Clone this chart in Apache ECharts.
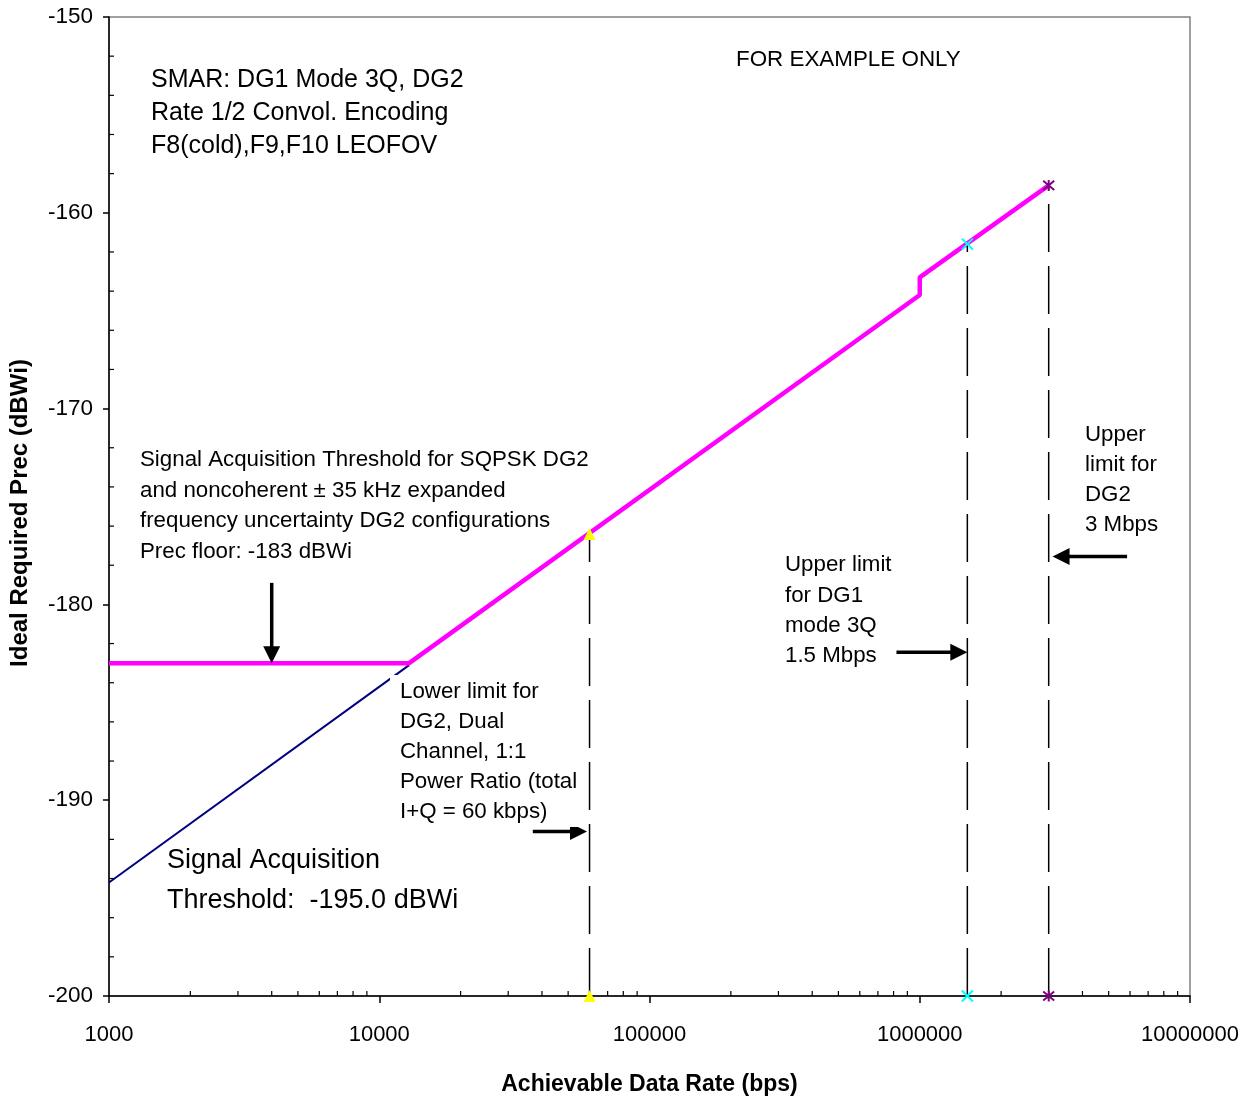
<!DOCTYPE html>
<html>
<head>
<meta charset="utf-8">
<title>Ideal Required Prec vs Achievable Data Rate</title>
<script src="https://cdn.jsdelivr.net/npm/echarts@6/dist/echarts.min.js"></script>
<style>
  html, body { margin: 0; padding: 0; background: #fff; }
  #chart { width: 1253px; height: 1101px; }
</style>
</head>
<body>
<div id="chart"></div>
<script>
// Achievable data rate (bps) vs ideal required received power (dBWi)

// Required Prec curve (floor at -183 dBWi, step at 1 Mbps)
const precCurve = [
  [1000, -183.0],
  [12900, -183.0],
  [1000000, -164.2],
  [1000000, -163.3],
  [3000000, -158.6]
];

// Signal acquisition threshold line below the floor
const thresholdLine = [
  [1000, -194.2],
  [12900, -183.1]
];

// Rate limits: [rate, Prec on curve]
const limitDG2Low = [60000, -176.4];     // 60 kbps, yellow triangle
const limitDG1Up = [1500000, -161.6];    // 1.5 Mbps, cyan cross
const limitDG2Up = [3000000, -158.6];    // 3 Mbps, purple asterisk

// Annotation arrows: [fromRate, fromPrec, tipRate, tipPrec]
const arrows = [
  [4000, -178.9, 4000, -183.0],
  [37000, -191.6, 58700, -191.6],
  [820000, -182.45, 1500000, -182.45],
  [5850000, -177.55, 3100000, -177.55]
];

// Axis ranges and minor tick positions
const xMin = 1000, xMax = 10000000;
const yMin = -200, yMax = -150, yStep = 10;
const xMinorTicks = [];
for (const d of [1000, 10000, 100000, 1000000]) {
  for (const m of [2, 3, 4, 5, 6, 7, 8, 9]) xMinorTicks.push(d * m);
}
const yMinorTicks = [];
for (let v = yMin + 2; v < yMax; v += 2) {
  if (v % 10 !== 0) yMinorTicks.push(v);
}

const FONT = "'Liberation Sans', Arial, sans-serif";

const chart = echarts.init(document.getElementById('chart'), null, { renderer: 'canvas' });

function limitSeries(name, pt, symbol, size, itemStyle) {
  return {
    name: name,
    type: 'line',
    data: [[pt[0], yMin], [pt[0], pt[1]]],
    symbol: symbol,
    symbolSize: size,
    showSymbol: true,
    showAllSymbol: true,
    itemStyle: itemStyle,
    lineStyle: { color: '#000', width: 1.5, type: [48, 14] },
    z: 4,
    clip: false,
    silent: true
  };
}

const option = {
  animation: false,
  backgroundColor: '#fff',
  grid: {
    left: 109, right: 63, top: 17, bottom: 104,
    show: true, borderColor: '#808080', borderWidth: 1.5, backgroundColor: 'transparent'
  },
  xAxis: {
    type: 'log',
    logBase: 10,
    min: xMin,
    max: xMax,
    name: 'Achievable Data Rate (bps)',
    nameLocation: 'middle',
    nameGap: 77,
    nameTextStyle: { fontFamily: FONT, fontSize: 23, fontWeight: 'bold', color: '#000' },
    axisLine: { show: true, lineStyle: { color: '#000', width: 1.5 } },
    axisTick: { show: true, inside: false, length: 7, lineStyle: { color: '#000', width: 1.5 } },
    axisLabel: {
      fontFamily: FONT, fontSize: 22, color: '#000', margin: 28,
      formatter: v => String(Math.round(v))
    },
    splitLine: { show: false }
  },
  yAxis: {
    type: 'value',
    min: yMin,
    max: yMax,
    interval: yStep,
    axisLine: { show: true, lineStyle: { color: '#000', width: 1.5 } },
    axisTick: { show: true, inside: false, length: 6, lineStyle: { color: '#000', width: 1.5 } },
    axisLabel: { fontFamily: FONT, fontSize: 22.5, color: '#000', margin: 16 },
    splitLine: { show: false }
  },
  series: [
    {
      name: 'Minor x ticks',
      type: 'custom',
      silent: true,
      clip: false,
      z: 3,
      data: xMinorTicks.map(v => [v, yMin]),
      renderItem: (params, api) => {
        const p = api.coord([api.value(0), api.value(1)]);
        return {
          type: 'line',
          shape: { x1: p[0], y1: p[1], x2: p[0], y2: p[1] - 5 },
          style: { stroke: '#000', lineWidth: 1.2 }
        };
      }
    },
    {
      name: 'Minor y ticks',
      type: 'custom',
      silent: true,
      clip: false,
      z: 3,
      data: yMinorTicks.map(v => [xMin, v]),
      renderItem: (params, api) => {
        const p = api.coord([api.value(0), api.value(1)]);
        return {
          type: 'line',
          shape: { x1: p[0], y1: p[1], x2: p[0] + 5, y2: p[1] },
          style: { stroke: '#000', lineWidth: 1.2 }
        };
      }
    },
    {
      name: 'Acquisition threshold',
      type: 'line',
      data: thresholdLine,
      symbol: 'none',
      lineStyle: { color: '#000080', width: 2 },
      z: 2,
      silent: true
    },
    {
      name: 'Required Prec',
      type: 'line',
      data: precCurve,
      symbol: 'none',
      lineStyle: { color: '#FF00FF', width: 4.5 },
      z: 3,
      silent: true
    },
    limitSeries('DG2 lower limit', limitDG2Low, 'triangle', 12,
      { color: '#FFFF00', borderWidth: 0 }),
    limitSeries('DG1 upper limit', limitDG1Up, 'path://M0,0L10,10M10,0L0,10', 11,
      { color: 'transparent', borderColor: '#00FFFF', borderWidth: 2 }),
    limitSeries('DG2 upper limit', limitDG2Up, 'path://M0,0L10,10M10,0L0,10M5,-1L5,11', 11,
      { color: 'transparent', borderColor: '#800080', borderWidth: 2 }),
    {
      name: 'Arrows',
      type: 'custom',
      silent: true,
      clip: false,
      z: 6,
      data: arrows,
      renderItem: (params, api) => {
        const a = api.coord([api.value(0), api.value(1)]);
        const b = api.coord([api.value(2), api.value(3)]);
        const dx = b[0] - a[0], dy = b[1] - a[1];
        const len = Math.sqrt(dx * dx + dy * dy);
        const ux = dx / len, uy = dy / len;
        const head = 17, half = 8.5;
        const bx = b[0] - ux * head, by = b[1] - uy * head;
        return {
          type: 'group',
          children: [
            {
              type: 'line',
              shape: { x1: a[0], y1: a[1], x2: bx + ux * 2, y2: by + uy * 2 },
              style: { stroke: '#000', lineWidth: 3.5 }
            },
            {
              type: 'polygon',
              shape: {
                points: [
                  [b[0], b[1]],
                  [bx - uy * half, by + ux * half],
                  [bx + uy * half, by - ux * half]
                ]
              },
              style: { fill: '#000' }
            }
          ]
        };
      }
    }
  ],
  graphic: [
    {
      type: 'text', x: 20, y: 513, rotation: Math.PI / 2, z: 100,
      style: {
        text: 'Ideal Required Prec (dBWi)',
        font: 'bold 24px ' + FONT, fill: '#000',
        align: 'center', verticalAlign: 'middle'
      }
    },
    {
      type: 'text', left: 151, top: 64, z: 100,
      style: {
        text: 'SMAR: DG1 Mode 3Q, DG2\nRate 1/2 Convol. Encoding\nF8(cold),F9,F10 LEOFOV',
        font: '25px ' + FONT, fill: '#000', lineHeight: 33
      }
    },
    {
      type: 'text', left: 736, top: 47, z: 100,
      style: { text: 'FOR EXAMPLE ONLY', font: '22.4px ' + FONT, fill: '#000', lineHeight: 26 }
    },
    {
      type: 'text', left: 140, top: 445, z: 100,
      style: {
        text: 'Signal Acquisition Threshold for SQPSK DG2\nand noncoherent \u00B1 35 kHz expanded\nfrequency uncertainty DG2 configurations\nPrec floor: -183 dBWi',
        font: '22.3px ' + FONT, fill: '#000', lineHeight: 30.5
      }
    },
    {
      type: 'text', left: 390, top: 675, z: 100,
      style: {
        text: 'Lower limit for\nDG2, Dual\nChannel, 1:1\nPower Ratio (total\nI+Q = 60 kbps)',
        font: '22.3px ' + FONT, fill: '#000', lineHeight: 30,
        backgroundColor: '#fff', padding: [2, 2, 0, 10]
      }
    },
    {
      type: 'text', left: 785, top: 550, z: 100,
      style: {
        text: 'Upper limit\nfor DG1\nmode 3Q\n1.5 Mbps',
        font: '22.3px ' + FONT, fill: '#000', lineHeight: 30.3
      }
    },
    {
      type: 'text', left: 1085, top: 420, z: 100,
      style: {
        text: 'Upper\nlimit for\nDG2\n3 Mbps',
        font: '22.3px ' + FONT, fill: '#000', lineHeight: 30
      }
    },
    {
      type: 'text', left: 167, top: 841, z: 100,
      style: {
        text: 'Signal Acquisition\nThreshold:  -195.0 dBWi',
        font: '27px ' + FONT, fill: '#000', lineHeight: 40
      }
    }
  ]
};

chart.setOption(option);
</script>
</body>
</html>
